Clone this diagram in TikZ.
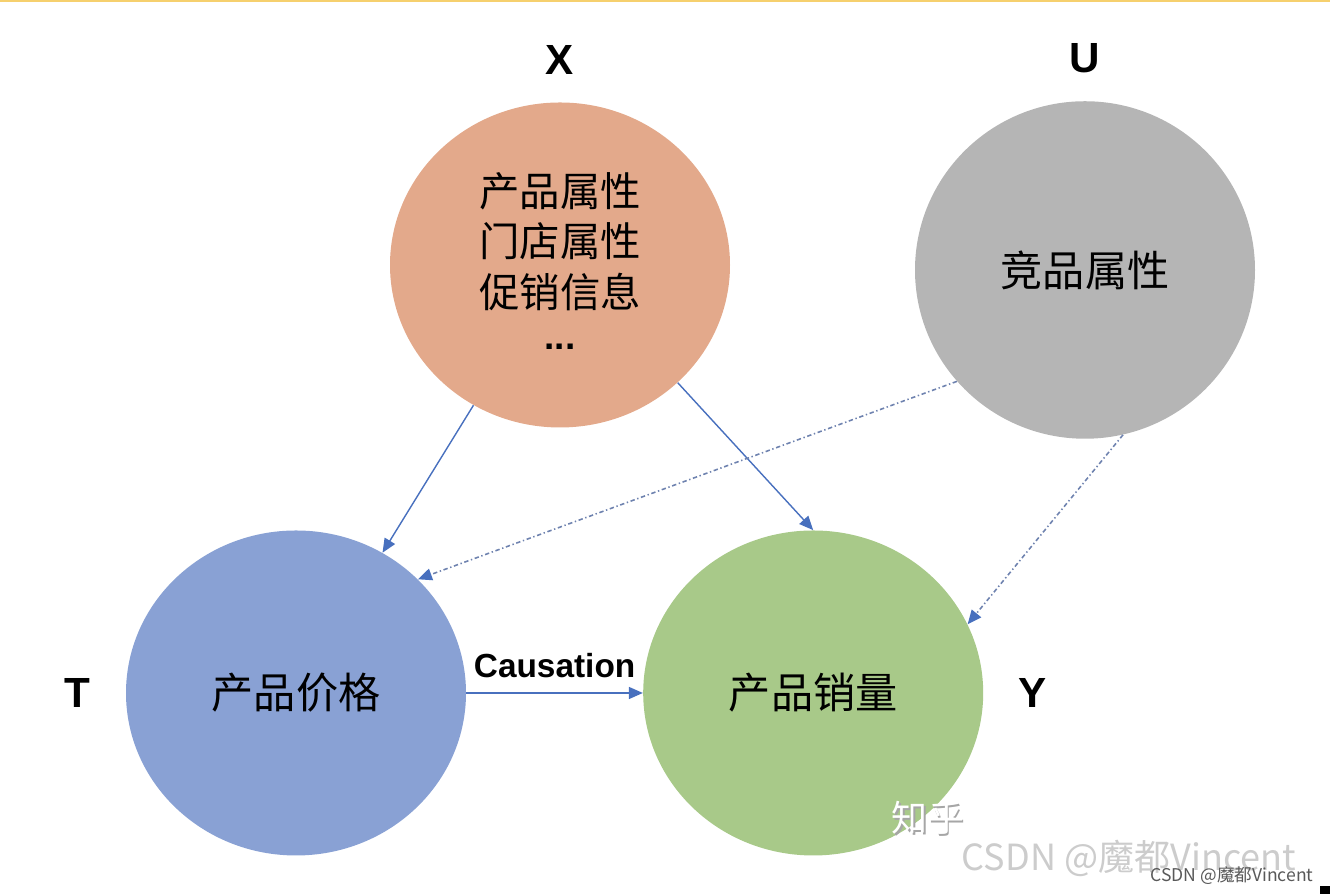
\documentclass[tikz,border=0pt]{standalone}
\usepackage{fontspec}
\setmainfont{Liberation Sans}
\newfontfamily\cjk{Noto Sans CJK SC}
\usepackage{xcolor}
\usetikzlibrary{arrows.meta,positioning,shapes.geometric}

\definecolor{xfill}{RGB}{227,169,139}
\definecolor{ufill}{RGB}{181,181,181}
\definecolor{tfill}{RGB}{137,161,212}
\definecolor{yfill}{RGB}{168,201,137}
\definecolor{arrowblue}{RGB}{72,112,190}
\definecolor{dotblue}{RGB}{110,130,175}
\definecolor{topline}{RGB}{246,208,110}

\begin{document}
\begin{tikzpicture}[
  node distance=5.5mm and 7mm,
  var/.style={ellipse, minimum width=6.8cm, minimum height=6.5cm, inner sep=0pt, align=center, font=\cjk\fontsize{24}{28.5}\selectfont},
  letter/.style={inner sep=0pt, font=\fontsize{24}{28}\selectfont\bfseries},
  arrow/.style={-{Triangle[length=2.8mm,width=2.4mm,color=arrowblue]}, line width=0.8pt, draw=arrowblue},
  dottedarrow/.style={arrow, draw=dotblue, line width=0.9pt, dash pattern=on 2.5pt off 1.5pt on 0.8pt off 1.5pt},
  wm/.style={inner sep=0pt, font=\cjk\fontsize{20.5}{22}\selectfont}
]
\useasboundingbox (0,0) rectangle (26.6,17.88);
\fill[topline] (0,17.84) rectangle (26.6,17.88);

\node[var, fill=xfill, font=\cjk\fontsize{23}{28.5}\selectfont] (X) at (11.2,12.58) {产品属性\\门店属性\\促销信息\\\raisebox{0.19em}{\normalfont\bfseries\fontsize{21}{21}\selectfont...}};
\node[var, fill=ufill, minimum height=6.75cm] (U) at (21.7,12.48) {竞品属性};
\node[var, fill=tfill] (T) at (5.92,4.02) {产品价格};
\node[var, fill=yfill, right=3.53cm of T] (Y) {产品销量};

\node[letter, above=of X] (xlab) {X};
\node[letter, above=of U] (ulab) {U};
\node[letter, left=of T] (tlab) {T};
\node[letter, right=of Y] (ylab) {Y};

\draw[arrow] (X) -- (T);
\draw[arrow] (X.-45) -- (Y.north);
\draw[dottedarrow] (U.221) -- (T.43);
\draw[dottedarrow] (U.-77) -- (Y.24);
\draw[arrow] (T) -- node[above, inner sep=8.5pt, font=\fontsize{19}{22}\selectfont\bfseries] (causal) {Causation} (Y);

\node[wm, text=gray!70] (zhihushadow) at (18.59,1.49) {知乎};
\node[wm, text=white] (zhihu) at (18.56,1.52) {知乎};
\node[wm, text=gray!40] (csdnbig) at (22.58,0.72) {CSDN @魔都Vincent};
\node[wm, text=black!65, font=\cjk\fontsize{10}{12}\selectfont] (csdnsmall) at (24.64,0.36) {CSDN @魔都Vincent};
\fill (26.4,0) rectangle (26.6,0.16);
\end{tikzpicture}
\end{document}
